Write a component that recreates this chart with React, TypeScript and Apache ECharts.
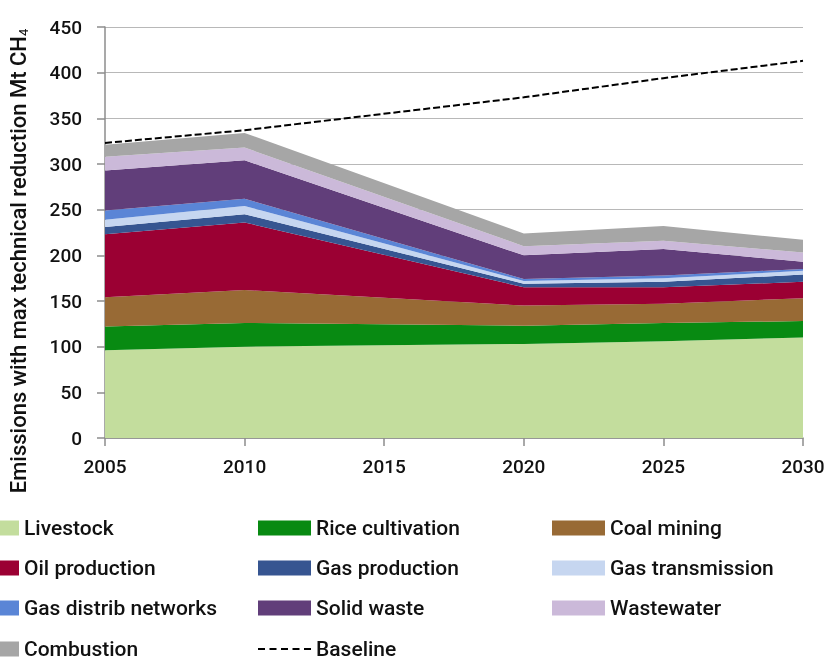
import React, { useEffect, useRef } from "react";
import * as echarts from "echarts";

const years = [2005, 2010, 2020, 2025, 2030];
const livestock = [96, 100, 103, 106, 110];
const riceCultivation = [26, 26, 20, 20, 18];
const coalMining = [32, 36, 22, 21, 25];
const oilProduction = [69, 74, 20, 18, 18];
const gasProduction = [8, 9, 4, 6, 8];
const gasTransmission = [8, 9, 3, 4, 4];
const gasDistrib = [10, 8, 2, 3, 2];
const solidWaste = [44, 42, 26, 29, 8];
const wastewater = [15, 14, 10, 9, 10];
const combustion = [13, 16, 14, 16, 14];
const baselineYears = [2005, 2010, 2020, 2025, 2030];
const baseline = [323, 337, 373, 394, 413];
const xTicks = [2005, 2010, 2015, 2020, 2025, 2030];
const yTicks = [0, 50, 100, 150, 200, 250, 300, 350, 400, 450];

const seriesNames = [
  "Livestock",
  "Rice cultivation",
  "Coal mining",
  "Oil production",
  "Gas production",
  "Gas transmission",
  "Gas distrib networks",
  "Solid waste",
  "Wastewater",
  "Combustion",
];
const seriesValues = [
  livestock,
  riceCultivation,
  coalMining,
  oilProduction,
  gasProduction,
  gasTransmission,
  gasDistrib,
  solidWaste,
  wastewater,
  combustion,
];
const colors = [
  "#c3dd9d",
  "#088a12",
  "#986a35",
  "#9b0033",
  "#365591",
  "#c6d6f0",
  "#5a85d6",
  "#613e7a",
  "#cbb9d9",
  "#a6a6a6",
];

const legendColumns = [
  ["Livestock", "Oil production", "Gas distrib networks", "Combustion"],
  ["Rice cultivation", "Gas production", "Solid waste", "Baseline"],
  ["Coal mining", "Gas transmission", "Wastewater"],
];
const legendLefts = [-34, 258, 552];
const legendRowCenters = [528, 568, 608, 649];

const FONT = "Roboto, 'Liberation Sans', sans-serif";
const DASH_ICON =
  "path://M0,0h7v2h-7z M11.5,0h7v2h-7z M23,0h7v2h-7z M34.5,0h7v2h-7z M46,0h7v2h-7z";

export default function App() {
  const ref = useRef<HTMLDivElement>(null);
  useEffect(() => {
    if (!ref.current) return;
    const chart = echarts.init(ref.current, undefined, { renderer: "svg" });
    const areaSeries = seriesNames.map((name, i) => ({
      name,
      type: "line",
      stack: "total",
      symbol: "none",
      showSymbol: false,
      color: colors[i],
      lineStyle: { width: 0, color: colors[i] },
      areaStyle: { color: colors[i], opacity: 1 },
      itemStyle: { color: colors[i] },
      encode: { x: 1, y: 0 },
      data: years.map((y, j) => [seriesValues[i][j], y]),
      z: 2,
    }));
    const legends: any[] = [];
    legendColumns.forEach((col, k) => {
      col.forEach((n, r) => {
        const isBase = n === "Baseline";
        const idx = seriesNames.indexOf(n);
        const item: any = {
          name: n,
          icon: isBase ? DASH_ICON : "rect",
          itemStyle: { color: isBase ? "#000" : colors[idx], borderWidth: 0 },
        };
        legends.push({
          orient: "horizontal",
          left: legendLefts[k],
          top: legendRowCenters[r] - 12,
          padding: 0,
          itemWidth: 53,
          itemHeight: isBase ? 2 : 15,
          selectedMode: false,
          textStyle: {
            fontSize: 21,
            lineHeight: 24,
            color: "#111",
            fontFamily: FONT,
            fontWeight: 500,
          },
          data: [item],
        });
      });
    });
    const option: any = {
      animation: false,
      textStyle: { fontFamily: FONT },
      grid: { left: 105, right: 30, top: 27, bottom: 222, containLabel: false },
      xAxis: {
        type: "value",
        min: xTicks[0],
        max: xTicks[xTicks.length - 1],
        interval: xTicks[1] - xTicks[0],
        splitLine: { show: false },
        axisLine: { show: true, lineStyle: { color: "#8c8c8c", width: 1.5 } },
        axisTick: { show: true, length: 8, lineStyle: { color: "#8c8c8c", width: 1.5 } },
        axisLabel: {
          margin: 19,
          fontSize: 19,
          fontWeight: 500,
          color: "#111",
          fontFamily: FONT,
          formatter: (v: number) => String(v),
        },
      },
      yAxis: {
        type: "value",
        min: yTicks[0],
        max: yTicks[yTicks.length - 1],
        interval: yTicks[1] - yTicks[0],
        splitLine: { show: true, lineStyle: { color: "#b8b8b8", width: 1.2 } },
        axisLine: { show: true, lineStyle: { color: "#8c8c8c", width: 1.5 } },
        axisTick: { show: true, length: 8, lineStyle: { color: "#8c8c8c", width: 1.5 } },
        axisLabel: {
          margin: 23,
          fontSize: 19,
          fontWeight: 500,
          color: "#111",
          fontFamily: FONT,
          formatter: (v: number) => String(v),
        },
      },
      legend: legends,
      graphic: [
        {
          type: "text",
          x: 18,
          y: 261,
          rotation: Math.PI / 2,
          style: {
            text: "{a|Emissions with max technical reduction Mt CH}{s|4}",
            align: "center",
            verticalAlign: "middle",
            rich: {
              a: { fontSize: 22, fontFamily: FONT, fill: "#111", fontWeight: 500 },
              s: { fontSize: 13, fontFamily: FONT, fill: "#111", padding: [10, 0, 0, 0] },
            },
          },
        },
      ],
      series: [
        ...areaSeries,
        {
          name: "Baseline",
          type: "line",
          symbol: "none",
          showSymbol: false,
          color: "#000",
          itemStyle: { color: "#000" },
          lineStyle: { color: "#000", width: 2, type: [7, 3] },
          data: baselineYears.map((y, j) => [y, baseline[j]]),
          z: 5,
        },
      ],
    };
    chart.setOption(option);
    return () => chart.dispose();
  }, []);
  return (
    <div
      ref={ref}
      style={{ position: "fixed", left: 0, top: 0, width: 833, height: 660 }}
    />
  );
}
